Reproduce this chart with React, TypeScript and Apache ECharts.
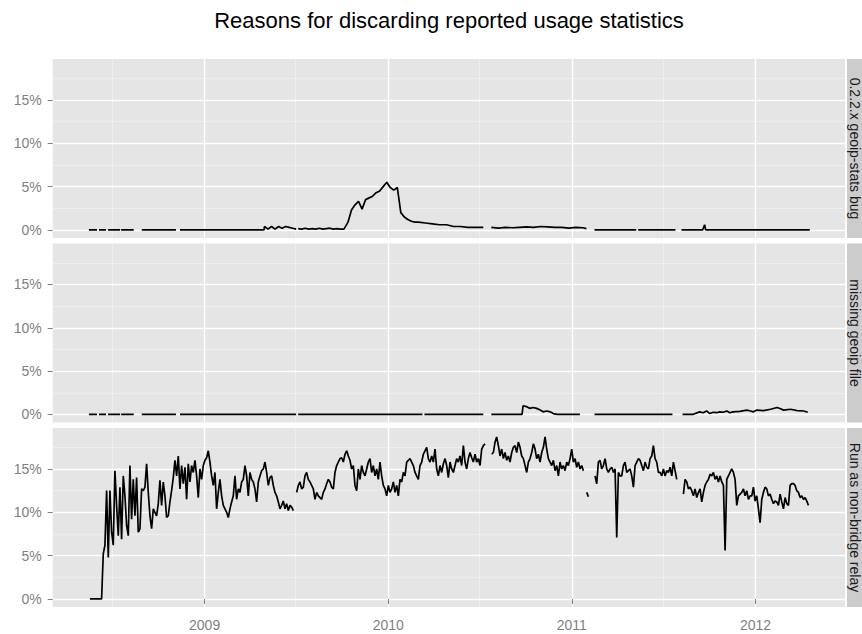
import React, { useEffect, useRef } from 'react';
import * as echarts from 'echarts';

const TITLE = 'Reasons for discarding reported usage statistics';
const FACET_LABELS = ['0.2.2.x geoip-stats bug', 'missing geoip file', 'Run as non-bridge relay'];
const Y_TICKS = [0, 5, 10, 15];
const Y_MINOR_TICKS = [2.5, 7.5, 12.5, 17.5];
const X_TICK_DATES = ['2009-01-01', '2010-01-01', '2011-01-01', '2012-01-01'];
const X_MINOR_DATES = ['2008-07-01', '2009-07-01', '2010-07-01', '2011-07-01'];
const X_RANGE = ['2008-03-05', '2012-06-27'];
const Y_RANGE = [-0.93, 19.73];

// 0.2.2.x geoip-stats bug (percent); null = missing data (line break)
const geoipStatsBug: ([string, number] | null)[] = [
  ['2008-05-16', 0], ['2008-06-01', 0], null,
  ['2008-06-05', 0], ['2008-06-19', 0], null,
  ['2008-06-23', 0], ['2008-07-17', 0], null,
  ['2008-07-19', 0], ['2008-08-13', 0], null,
  ['2008-08-29', 0], ['2008-11-05', 0], null,
  ['2008-11-13', 0], ['2009-04-29', 0],
  ['2009-04-30', 0.4], ['2009-05-07', 0.1], ['2009-05-14', 0.4], ['2009-05-21', 0.1], ['2009-05-28', 0.4],
  ['2009-06-04', 0.2], ['2009-06-11', 0.4], ['2009-06-18', 0.3], ['2009-06-25', 0.2], ['2009-07-02', 0.1], null,
  ['2009-07-06', 0.15], ['2009-07-13', 0.1], ['2009-07-20', 0.2], ['2009-07-27', 0.1], ['2009-08-03', 0.15],
  ['2009-08-10', 0.1], ['2009-08-17', 0.2], ['2009-08-24', 0.1], ['2009-08-31', 0.15], ['2009-09-07', 0.2],
  ['2009-09-14', 0.1], ['2009-09-21', 0.15], ['2009-09-28', 0.1], ['2009-10-05', 0.1],
  ['2009-10-13', 0.9], ['2009-10-20', 2.3], ['2009-10-27', 2.9], ['2009-11-03', 3.3], ['2009-11-10', 2.4],
  ['2009-11-17', 3.5], ['2009-11-24', 3.7], ['2009-12-01', 3.9], ['2009-12-08', 4.3], ['2009-12-15', 4.5],
  ['2009-12-22', 5.0], ['2009-12-29', 5.5], ['2010-01-05', 4.9], ['2010-01-12', 4.6], ['2010-01-19', 4.9],
  ['2010-01-26', 2.0], ['2010-02-02', 1.5], ['2010-02-09', 1.2], ['2010-02-16', 1.0], ['2010-02-23', 0.9],
  ['2010-03-02', 0.9], ['2010-03-16', 0.8], ['2010-03-30', 0.7], ['2010-04-13', 0.6], ['2010-04-27', 0.6],
  ['2010-05-11', 0.4], ['2010-05-25', 0.4], ['2010-06-08', 0.3], ['2010-06-22', 0.3], ['2010-07-09', 0.3], null,
  ['2010-07-25', 0.3], ['2010-08-08', 0.2], ['2010-08-22', 0.3], ['2010-09-05', 0.25], ['2010-09-19', 0.3],
  ['2010-10-03', 0.35], ['2010-10-17', 0.3], ['2010-10-31', 0.4], ['2010-11-14', 0.35], ['2010-11-28', 0.3],
  ['2010-12-12', 0.3], ['2010-12-26', 0.2], ['2011-01-09', 0.3], ['2011-01-23', 0.25], ['2011-01-30', 0.15], null,
  ['2011-02-15', 0], ['2011-05-09', 0], null,
  ['2011-05-13', 0], ['2011-07-26', 0], null,
  ['2011-08-07', 0], ['2011-09-18', 0], ['2011-09-22', 0.6], ['2011-09-24', 0], ['2012-04-18', 0],
];

// missing geoip file (percent)
const missingGeoipFile: ([string, number] | null)[] = [
  ['2008-05-16', 0], ['2008-06-01', 0], null,
  ['2008-06-05', 0], ['2008-06-19', 0], null,
  ['2008-06-23', 0], ['2008-07-17', 0], null,
  ['2008-07-19', 0], ['2008-08-13', 0], null,
  ['2008-08-29', 0], ['2008-11-05', 0], null,
  ['2008-11-13', 0], ['2009-07-02', 0], null,
  ['2009-07-06', 0], ['2010-03-10', 0], null,
  ['2010-03-14', 0], ['2010-07-09', 0], null,
  ['2010-07-25', 0], ['2010-09-24', 0], ['2010-09-26', 1.0], ['2010-10-03', 0.9], ['2010-10-10', 0.7],
  ['2010-10-16', 0.8], ['2010-10-23', 0.7], ['2010-10-30', 0.5], ['2010-11-05', 0.3], ['2010-11-12', 0.4],
  ['2010-11-19', 0.3], ['2010-11-25', 0.1], ['2010-12-03', 0], ['2011-01-17', 0], null,
  ['2011-02-15', 0], ['2011-07-20', 0], null,
  ['2011-08-09', 0], ['2011-08-29', 0], ['2011-09-12', 0.3], ['2011-09-19', 0.2], ['2011-09-26', 0.4],
  ['2011-10-02', 0.1], ['2011-10-09', 0.25], ['2011-10-16', 0.2], ['2011-10-22', 0.3], ['2011-10-29', 0.25],
  ['2011-11-05', 0.4], ['2011-11-11', 0.2], ['2011-11-17', 0.3], ['2011-12-01', 0.35], ['2011-12-15', 0.5],
  ['2011-12-22', 0.4], ['2011-12-28', 0.3], ['2012-01-04', 0.5], ['2012-01-17', 0.45], ['2012-01-31', 0.6],
  ['2012-02-13', 0.8], ['2012-02-20', 0.65], ['2012-02-26', 0.5], ['2012-03-11', 0.6], ['2012-03-24', 0.45],
  ['2012-04-06', 0.4], ['2012-04-14', 0.25],
];

// Run as non-bridge relay (percent), sampled every ~3.3 days from this start date; null = missing
const nonBridgeStart = '2008-05-18';
const nonBridgeStepDays = 3.314;
const nonBridgeRelay: (number | null)[] = [
  // mid 2008 - early 2009
  0, 0, 0, 0, 0, 0, 0, 0,
  5.2, 6.2, 12.5, 4.8, 12.5, 7.7, 6.2, 14.8, 10.8, 7.3,
  12.9, 6.9, 14.2, 11.9, 8.5, 7.3, 15.4, 9.2, 13.8, 9.6,
  14.0, 7.7, 8.1, 12.7, 12.5, 12.9, 15.6, 12.3, 9.6, 8.1,
  10.4, 10.0, 9.6, 11.0, 13.7, 10.8, 13.5, 11.9, 9.4, 9.6,
  11.2, 12.5, 14.0, 16.0, 14.2, 16.5, 12.7, 15.4, 13.3, 15.2,
  11.5, 15.6, 13.5, 15.4, 14.6, 16.0, 14.2, 11.7, 15.0, 13.8,
  15.4, 16.0, 16.3, 17.1, 15.8, 14.2, 13.1, 14.6,
  // 2009
  10.4, 12.3, 13.8, 11.9, 10.8, 10.4, 10.0, 9.4, 10.4, 11.2,
  11.9, 14.2, 11.5, 12.7, 12.3, 13.5, 13.8, 15.4, 14.2, 11.9,
  14.6, 13.8, 13.5, 12.7, 11.2, 13.5, 14.2, 14.8, 15.0, 15.8,
  14.6, 13.1, 14.0, 14.2, 13.1, 12.3, 11.9, 11.2, 10.4, 10.8,
  11.3, 10.4, 11.0, 10.2, 10.8, 10.6, 10.2, null, 12.3, 13.1,
  13.5, 12.7, 12.9, 14.2, 14.6, 13.8, 13.5, 13.1, 12.7, 11.5,
  12.3, 11.9, 11.7, 11.5, 12.3, 12.7, 13.3, 13.8, 13.5, 12.9,
  12.7, 14.6, 15.4, 15.8, 16.2, 16.3, 15.8, 16.7, 17.1, 16.5,
  16.0,
  // late 2009 - mid 2010
  15.0, 15.4, 13.1, 12.5, 15.0, 13.8, 15.4, 14.6, 14.2, 15.0,
  15.8, 16.2, 14.6, 15.4, 14.2, 15.0, 13.8, 15.8, 14.2, 13.1,
  12.7, 11.9, 13.1, 12.3, 12.7, 13.5, 12.3, 13.1, 11.9, 13.8,
  13.5, 14.6, 14.2, 15.8, 16.0, 16.2, 15.8, 15.4, 14.6, 14.2,
  13.8, 15.4, 15.8, 16.7, 17.1, 17.5, 16.2, 15.8, 16.5, 15.8,
  17.3, 15.0, 14.2, 15.4, 14.6, 15.6, 16.2, 15.4, 14.0, 15.8,
  15.0, 14.6, 15.4, 16.2, 15.8, 16.5, 15.4, 17.7, 15.8, 15.0,
  16.2, 16.9, 16.3, 15.8, 16.7, 15.8, 16.2, 15.4, 17.3, 17.7,
  17.9,
  // mid 2010 - early 2011
  null, null, null, 16.7, 16.9, 18.1, 18.7, 17.7, 16.5, 17.3,
  16.2, 16.9, 16.0, 16.5, 15.8, 16.9, 17.5, 17.7, 16.9, 18.1,
  17.5, 16.5, 16.2, 15.4, 14.6, 15.8, 16.2, 16.9, 17.9, 17.3,
  16.2, 16.7, 15.8, 16.9, 17.5, 18.7, 17.3, 16.2, 15.8, 15.4,
  16.0, 14.8, 15.4, 14.2, 15.8, 15.0, 15.4, 14.8, 15.8, 15.4,
  16.2, 17.3, 15.8, 16.2, 15.2, 15.8, 15.0, 15.4, 14.8, null,
  12.3, 11.8, null, null, null, 14.2, 13.3, 15.8, 16.0, 15.0,
  15.4, 16.2, 15.0, 14.6, 15.0, 15.2, 14.6, 15.0, 7.1, 14.6,
  14.2,
  // 2011
  14.2, 15.4, 15.8, 14.6, 14.8, 15.0, 14.2, 12.9, 15.4, 15.8,
  16.2, 16.0, 15.4, 14.8, 15.8, 15.2, 15.0, 16.2, 16.5, 17.7,
  16.2, 15.8, 14.6, 14.6, 14.2, 15.0, 14.2, 14.8, 14.6, 15.2,
  14.2, 15.8, 14.8, 13.8, null, null, null, 12.1, 13.8, 13.5,
  12.7, 12.9, 12.5, 11.9, 12.7, 11.7, 12.3, 12.7, 11.2, 12.3,
  13.1, 13.5, 13.8, 14.4, 14.2, 14.6, 13.8, 14.2, 13.5, 14.2,
  13.5, 13.1, 5.6, 13.8, 14.2, 14.6, 15.0, 14.6, 13.8, 10.8,
  11.9, 12.1,
  // late 2011 - 2012
  12.3, 12.7, 11.9, 12.5, 11.5, 11.9, 11.9, 12.9, 11.3, 11.9,
  10.4, 8.8, 11.5, 12.3, 12.9, 12.7, 11.9, 12.1, 11.5, 11.0,
  11.3, 11.2, 10.8, 12.1, 11.2, 10.4, 11.7, 11.0, 10.8, 13.1,
  13.3, 13.3, 13.1, 12.5, 12.3, 11.7, 11.9, 11.5, 11.7, 11.3,
  10.8,
];

const FONT = "'Liberation Sans', Arial, Helvetica, sans-serif";
const DAY = 86400000;

function ts(s: string): number {
  const [y, m, d] = s.split('-').map(Number);
  return Date.UTC(y, m - 1, d);
}

function pairsToData(list: ([string, number] | null)[]) {
  const out: any[] = [];
  let last = 0;
  for (const p of list) {
    if (p === null) out.push([last, '-']);
    else {
      last = ts(p[0]);
      out.push([last, p[1]]);
    }
  }
  return out;
}

function stepToData(start: string, step: number, values: (number | null)[]) {
  const t0 = ts(start);
  return values.map((v, i) => [t0 + i * step * DAY, v === null ? '-' : v]);
}

export default function App() {
  const ref = useRef<HTMLDivElement>(null);

  useEffect(() => {
    if (!ref.current) return;
    const chart = echarts.init(ref.current, null, { renderer: 'svg' });

    const left = 52.7;
    const plotRight = 845;
    const tops = [59, 243.5, 428];
    const h = 179;

    const grids = tops.map((t) => ({
      left,
      top: t,
      width: plotRight - left,
      height: h,
      show: true,
      backgroundColor: '#E5E5E5',
      borderWidth: 0,
      containLabel: false,
    }));

    const xMin = ts(X_RANGE[0]);
    const xMax = ts(X_RANGE[1]);
    const majorX = X_TICK_DATES.map(ts);
    const minorX = X_MINOR_DATES.map(ts);

    const xAxes: any[] = [];
    tops.forEach((_, k) => {
      const bottom = k === 2;
      xAxes.push({
        type: 'value',
        gridIndex: k,
        min: xMin,
        max: xMax,
        axisLine: { show: false },
        axisTick: {
          show: bottom,
          customValues: majorX,
          length: 5,
          lineStyle: { color: '#7F7F7F', width: 1 },
        },
        axisLabel: {
          show: bottom,
          customValues: majorX,
          margin: 11,
          color: '#7F7F7F',
          fontSize: 14,
          fontFamily: FONT,
          formatter: (v: number) => String(new Date(v).getUTCFullYear()),
        },
        splitLine: { show: true, lineStyle: { color: '#FFFFFF', width: 1.4 } },
        z: 1,
      });
    });
    tops.forEach((_, k) => {
      xAxes.push({
        type: 'value',
        gridIndex: k,
        min: xMin,
        max: xMax,
        axisLine: { show: false },
        axisTick: { show: false, customValues: minorX },
        axisLabel: { show: false, customValues: minorX },
        splitLine: { show: true, lineStyle: { color: '#F2F2F2', width: 0.7 } },
        z: 0,
      });
    });

    const yAxes: any[] = [];
    tops.forEach((_, k) => {
      yAxes.push({
        type: 'value',
        gridIndex: k,
        min: Y_RANGE[0],
        max: Y_RANGE[1],
        axisLine: { show: false },
        axisTick: {
          show: true,
          customValues: Y_TICKS,
          length: 5,
          lineStyle: { color: '#7F7F7F', width: 1 },
        },
        axisLabel: {
          show: true,
          customValues: Y_TICKS,
          margin: 11,
          color: '#7F7F7F',
          fontSize: 14,
          fontFamily: FONT,
          formatter: (v: number) => `${v}%`,
        },
        splitLine: { show: true, lineStyle: { color: '#FFFFFF', width: 1.4 } },
        z: 1,
      });
    });
    tops.forEach((_, k) => {
      yAxes.push({
        type: 'value',
        gridIndex: k,
        position: 'left',
        min: Y_RANGE[0],
        max: Y_RANGE[1],
        axisLine: { show: false },
        axisTick: { show: false, customValues: Y_MINOR_TICKS },
        axisLabel: { show: false, customValues: Y_MINOR_TICKS },
        splitLine: { show: true, lineStyle: { color: '#F2F2F2', width: 0.7 } },
        z: 0,
      });
    });

    const seriesData = [
      pairsToData(geoipStatsBug),
      pairsToData(missingGeoipFile),
      stepToData(nonBridgeStart, nonBridgeStepDays, nonBridgeRelay),
    ];

    const series = seriesData.map((data, k) => ({
      type: 'line',
      name: FACET_LABELS[k],
      xAxisIndex: k,
      yAxisIndex: k,
      data,
      showSymbol: false,
      symbol: 'none',
      connectNulls: false,
      lineStyle: { color: '#000000', width: 1.7 },
      z: 5,
    }));

    const graphics: any[] = [
      {
        type: 'text',
        x: 449,
        y: 20,
        style: {
          text: TITLE,
          fontSize: 22,
          fontFamily: FONT,
          fill: '#000000',
          align: 'center',
          verticalAlign: 'middle',
        },
      },
    ];
    tops.forEach((t, k) => {
      graphics.push({
        type: 'rect',
        shape: { x: 847, y: t, width: 20, height: h },
        style: { fill: '#CCCCCC' },
      });
      graphics.push({
        type: 'text',
        x: 855,
        y: t + h / 2,
        rotation: -Math.PI / 2,
        style: {
          text: FACET_LABELS[k],
          fontSize: 14,
          lineHeight: 14,
          fontFamily: FONT,
          fill: '#1A1A1A',
          align: 'center',
          verticalAlign: 'middle',
        },
      });
    });

    chart.setOption({
      animation: false,
      backgroundColor: '#FFFFFF',
      grid: grids,
      xAxis: xAxes,
      yAxis: yAxes,
      series,
      graphic: graphics,
    });

    return () => chart.dispose();
  }, []);

  return (
    <div
      ref={ref}
      style={{ position: 'fixed', left: 0, top: 0, width: 862, height: 634 }}
    />
  );
}
